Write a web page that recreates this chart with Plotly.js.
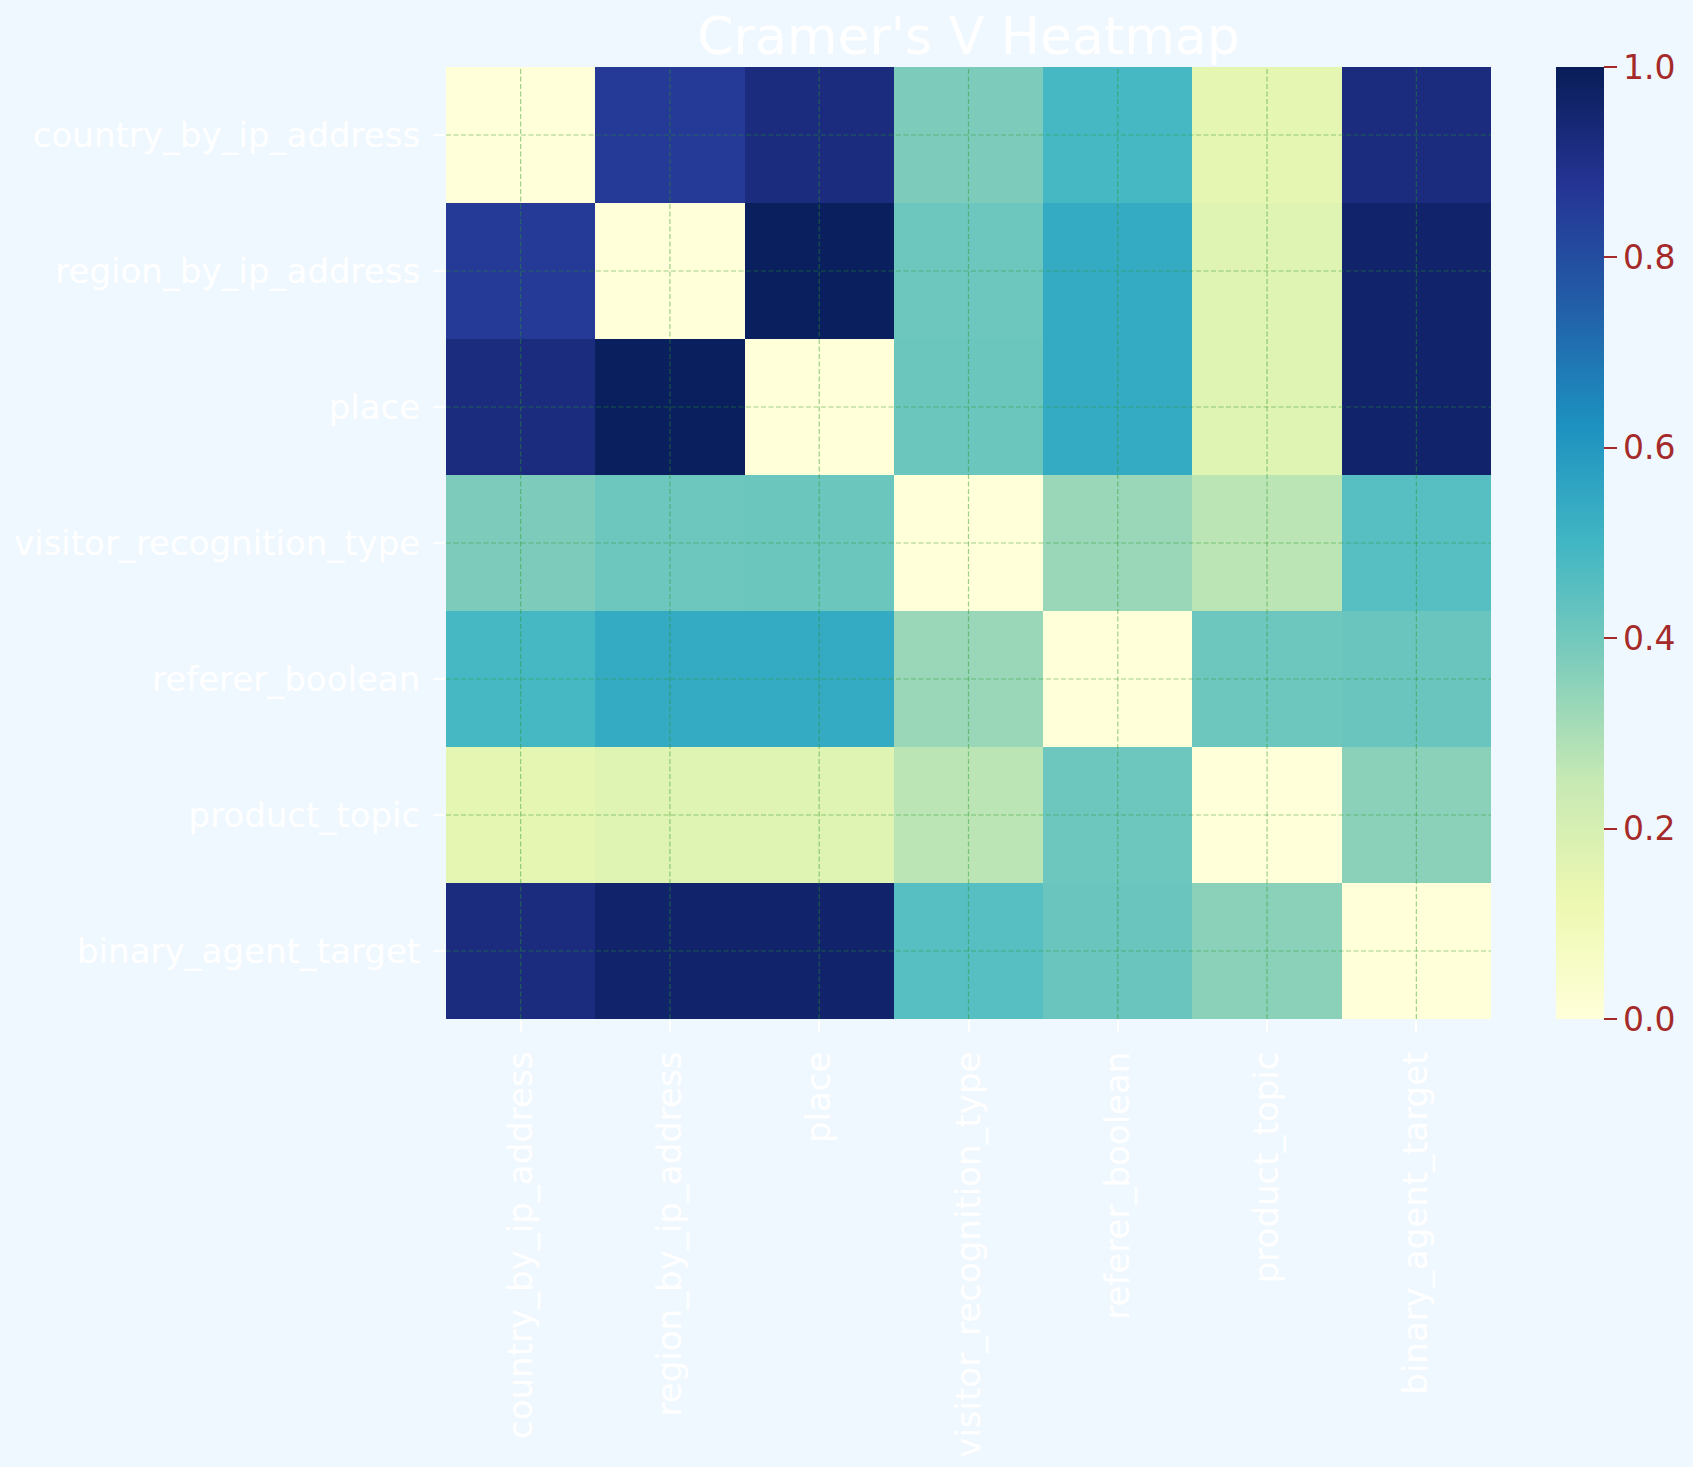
<!DOCTYPE html>
<html>
<head>
<meta charset="utf-8">
<script src="https://cdn.plot.ly/plotly-3.0.1.min.js"></script>
<style>
  html, body { margin: 0; padding: 0; background: #f0f8ff; }
  #chart { width: 1693px; height: 1467px; }
</style>
</head>
<body>
<div id="chart"></div>
<script>
const categories = ['country_by_ip_address', 'region_by_ip_address', 'place',
  'visitor_recognition_type', 'referer_boolean', 'product_topic', 'binary_agent_target'];

const rowCountry  = [0.00, 0.86, 0.92, 0.38, 0.49, 0.15, 0.92];
const rowRegion   = [0.86, 0.00, 0.99, 0.41, 0.54, 0.17, 0.96];
const rowPlace    = [0.92, 0.99, 0.00, 0.415, 0.54, 0.17, 0.96];
const rowVisitor  = [0.38, 0.41, 0.415, 0.00, 0.33, 0.27, 0.455];
const rowReferer  = [0.49, 0.54, 0.54, 0.33, 0.00, 0.41, 0.42];
const rowProduct  = [0.15, 0.17, 0.17, 0.27, 0.41, 0.00, 0.355];
const rowBinary   = [0.92, 0.96, 0.96, 0.455, 0.42, 0.355, 0.00];

const zValues = [rowCountry, rowRegion, rowPlace, rowVisitor, rowReferer, rowProduct, rowBinary];

const ylgnbu = ['#ffffd9', '#edf8b1', '#c7e9b4', '#7fcdbb', '#41b6c4', '#1d91c0', '#225ea8', '#253494', '#081d58'];
const colorscale = ylgnbu.map((c, i) => [i / (ylgnbu.length - 1), c]);

const font = 'DejaVu Sans, sans-serif';
const brown = '#a52a2a';
const gridColor = 'rgba(40,150,40,0.45)';

const shapes = [];
categories.forEach(c => {
  shapes.push({type: 'line', xref: 'x', yref: 'paper', x0: c, x1: c, y0: 0, y1: 1,
    layer: 'above', line: {color: gridColor, width: 1.2, dash: '5px,2.5px'}});
  shapes.push({type: 'line', xref: 'paper', yref: 'y', x0: 0, x1: 1, y0: c, y1: c,
    layer: 'above', line: {color: gridColor, width: 1.2, dash: '5px,2.5px'}});
});

const trace = {
  type: 'heatmap',
  x: categories,
  y: categories,
  z: zValues,
  zmin: 0, zmax: 1,
  colorscale: colorscale,
  xgap: 0, ygap: 0,
  hoverongaps: false,
  colorbar: {
    x: 1.0622, xanchor: 'left', xref: 'paper',
    y: 0.5, yanchor: 'middle', yref: 'paper',
    len: 1, lenmode: 'fraction',
    thickness: 48, thicknessmode: 'pixels',
    xpad: 0, ypad: 0,
    outlinewidth: 0,
    tick0: 0, dtick: 0.2, tickformat: '.1f',
    ticks: 'outside', ticklen: 13, tickwidth: 2, tickcolor: brown,
    tickfont: {family: font, size: 33, color: brown}
  }
};

const layout = {
  width: 1693, height: 1467,
  paper_bgcolor: '#f0f8ff',
  plot_bgcolor: '#f0f8ff',
  margin: {l: 446, r: 202, t: 67, b: 448, pad: 0},
  title: {
    text: "Cramer's V Heatmap",
    font: {family: font, size: 52, color: 'white'},
    x: 0.5, xref: 'paper',
    y: 1 - 36 / 1467, yref: 'container', yanchor: 'middle'
  },
  xaxis: {
    type: 'category',
    tickangle: -90,
    ticks: 'outside', ticklen: 12, tickwidth: 2, tickcolor: 'white',
    tickfont: {family: font, size: 34, color: 'white'},
    showgrid: false, zeroline: false, showline: false,
    ticklabelstandoff: 6
  },
  yaxis: {
    type: 'category',
    autorange: 'reversed',
    ticks: 'outside', ticklen: 12, tickwidth: 2, tickcolor: 'white',
    tickfont: {family: font, size: 34, color: 'white'},
    showgrid: false, zeroline: false, showline: false,
    ticklabelstandoff: 6
  },
  shapes: shapes
};

Plotly.newPlot('chart', [trace], layout, {displayModeBar: false, staticPlot: true});
</script>
</body>
</html>
